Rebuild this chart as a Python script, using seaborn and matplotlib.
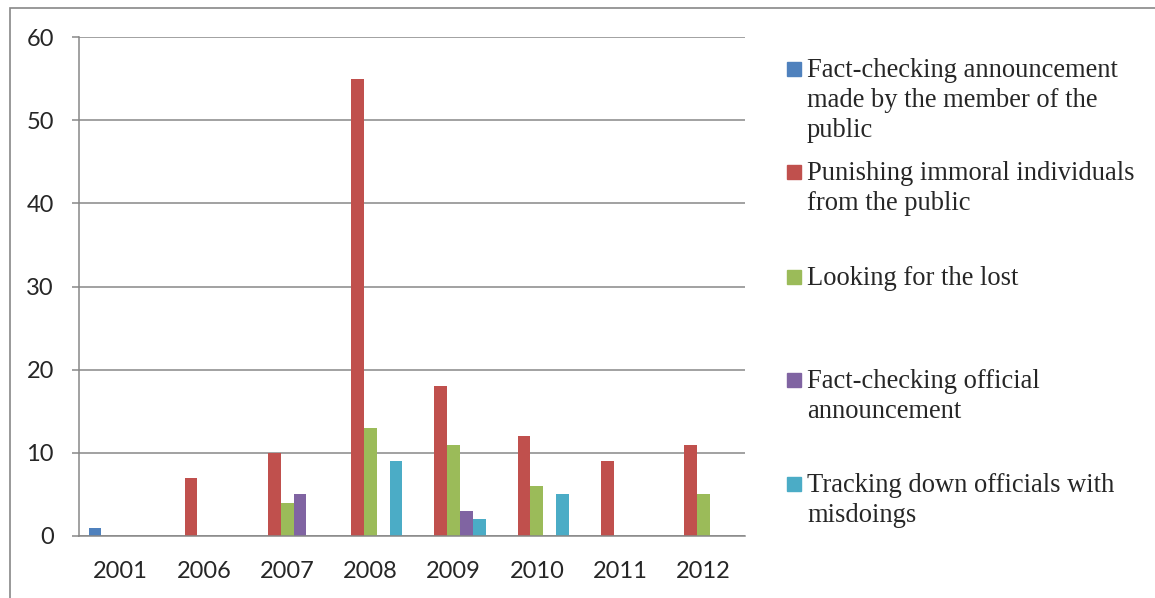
import numpy as np
import pandas as pd
import matplotlib
matplotlib.use('Agg')
import matplotlib.pyplot as plt
import seaborn as sns
from matplotlib.patches import Rectangle

sns.set_style('white')

# data
years = ['2001', '2006', '2007', '2008', '2009', '2010', '2011', '2012']
series = ['Fact-checking announcement\nmade by the member of the\npublic',
          'Punishing immoral individuals\nfrom the public',
          'Looking for the lost',
          'Fact-checking official\nannouncement',
          'Tracking down officials with\nmisdoings']
fact_public = [1, 0, 0, 0, 0, 0, 0, 0]
punishing = [0, 7, 10, 55, 18, 12, 9, 11]
lost = [0, 0, 4, 13, 11, 6, 0, 5]
fact_official = [0, 0, 5, 0, 3, 0, 0, 0]
tracking = [0, 0, 0, 9, 2, 5, 0, 0]
colors = ['#4F81BD', '#C0504D', '#9BBB59', '#8064A2', '#4BACC6']

values = [fact_public, punishing, lost, fact_official, tracking]
df = pd.DataFrame({
    'year': np.tile(years, len(series)),
    'series': np.repeat(series, len(years)),
    'count': np.concatenate(values),
})

W, H = 1155, 598
fig = plt.figure(figsize=(W / 100, H / 100), dpi=100)
ax = fig.add_axes([79 / W, 1 - 536 / H, (745 - 79) / W, (536 - 37) / H])

sns.barplot(data=df, x='year', y='count', hue='series', hue_order=series,
            palette=colors, width=0.77, linewidth=0, saturation=1,
            legend=False, ax=ax)

grey = '#878787'
ax.set_ylim(0, 60)
ax.set_xlim(-0.5, len(years) - 0.5)
ax.set_yticks(range(0, 61, 10))
ax.yaxis.grid(True, color=grey, linewidth=1.1)
ax.set_axisbelow(True)
ax.set_xlabel('')
ax.set_ylabel('')
for s in ['top', 'right']:
    ax.spines[s].set_visible(False)
for s in ['left', 'bottom']:
    ax.spines[s].set_color(grey)
    ax.spines[s].set_linewidth(1.1)

ax.set_xticks(np.arange(-0.5, len(years), 1), minor=True)
ax.tick_params(axis='x', which='major', length=0, pad=18, labelsize=17)
ax.tick_params(axis='x', which='minor', length=5, width=1.1, color=grey, direction='out')
ax.tick_params(axis='y', length=5, width=1.1, color=grey, direction='out', pad=13, labelsize=17, left=True)
for lab in ax.get_xticklabels() + ax.get_yticklabels():
    lab.set_fontfamily('Lato')

# legend, laid out like the spreadsheet one (entries top-aligned in equal slots)
baselines = [77, 180, 285, 388, 492]
for name, c, b in zip(series, colors, baselines):
    fig.patches.append(Rectangle((787 / W, 1 - (b - 1) / H), 14 / W, 14 / H,
                                 transform=fig.transFigure, color=c))
    for i, line in enumerate(name.split('\n')):
        fig.text(807 / W, 1 - (b + 30 * i) / H, line, family='Liberation Serif',
                 fontsize=19.1, va='baseline', ha='left')

# outer chart frame
fig.patches.append(Rectangle((10 / W, -0.1), 1.2, 1 - 8 / H + 0.1,
                             transform=fig.transFigure, fill=False,
                             edgecolor=grey, linewidth=1.2))

fig.savefig('out.png', dpi=100)
